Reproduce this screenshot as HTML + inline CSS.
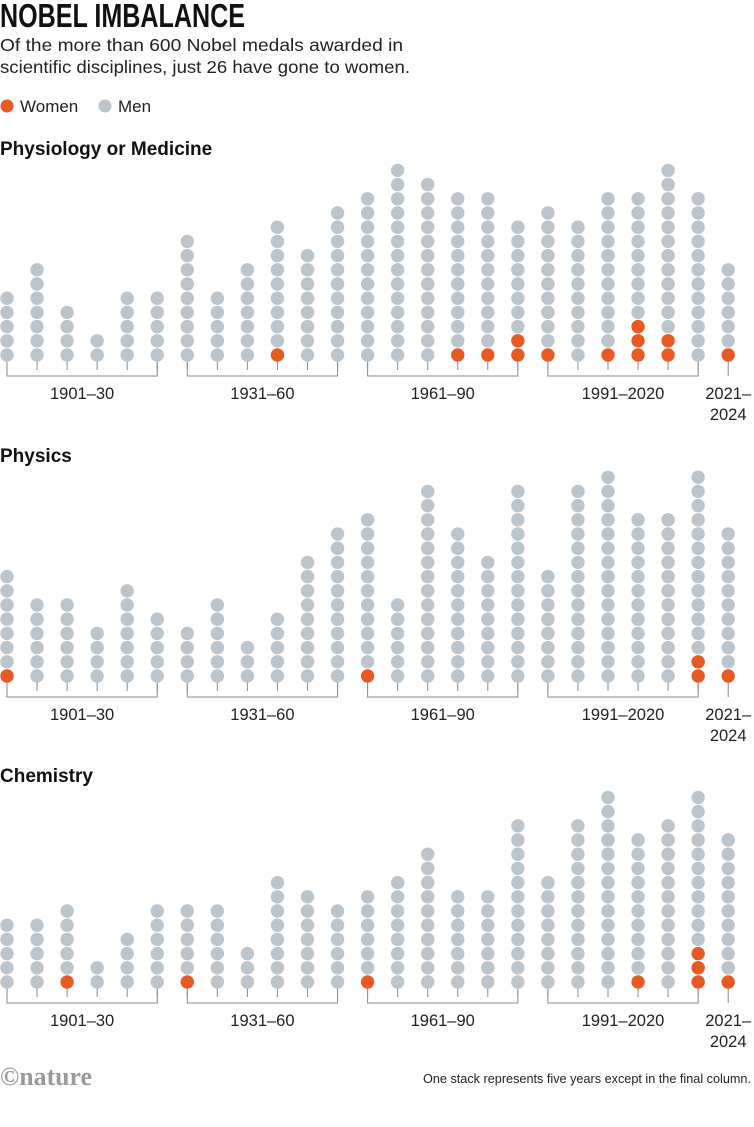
<!DOCTYPE html>
<html><head><meta charset="utf-8">
<style>
html,body{margin:0;padding:0;background:#fff;}
body{width:754px;height:1127px;overflow:hidden;position:relative;font-family:"Liberation Sans",sans-serif;color:#1a1a1a;}
</style></head>
<body>
<svg id="chart" width="754" height="1127" viewBox="0 0 754 1127" xmlns="http://www.w3.org/2000/svg" style="position:absolute;left:0;top:0">
  <text x="0" y="27" font-family="Liberation Sans Narrow, Liberation Sans, sans-serif" font-weight="bold" font-size="33" textLength="245" lengthAdjust="spacingAndGlyphs" fill="#111">NOBEL IMBALANCE</text>
  <text x="0" y="51" font-size="17.5" fill="#222" textLength="403" lengthAdjust="spacingAndGlyphs">Of the more than 600 Nobel medals awarded in</text>
  <text x="0" y="73" font-size="17.5" fill="#222" textLength="410" lengthAdjust="spacingAndGlyphs">scientific disciplines, just 26 have gone to women.</text>
  <g>
    <circle cx="7" cy="106" r="6.5" fill="#e85a24"/>
    <text x="20" y="112" font-size="17" fill="#222">Women</text>
    <circle cx="105" cy="106" r="6.5" fill="#bcc4cc"/>
    <text x="118" y="112" font-size="17" fill="#222">Men</text>
  </g>
  <g id="panels"></g>
  <text x="0" y="1085" font-family="Liberation Serif, serif" font-weight="bold" font-size="26" fill="#9a9a9a" textLength="92" lengthAdjust="spacingAndGlyphs">©nature</text>
  <text x="751" y="1083" text-anchor="end" font-size="12.5" fill="#222" textLength="328" lengthAdjust="spacingAndGlyphs">One stack represents five years except in the final column.</text>
</svg>
<script>
const periodLabels = ["1901–30","1931–60","1961–90","1991–2020"];
const finalLabel = ["2021–","2024"];
const medicineTotal = [5,7,4,2,5,5,9,5,7,10,8,11,12,14,13,12,12,10,11,10,12,12,14,12,7];
const medicineWomen = [0,0,0,0,0,0,0,0,0,1,0,0,0,0,0,1,1,2,1,0,1,3,2,0,1];
const physicsTotal = [8,6,6,4,7,5,4,6,3,5,9,11,12,6,14,11,9,14,8,14,15,12,12,15,11];
const physicsWomen = [1,0,0,0,0,0,0,0,0,0,0,0,1,0,0,0,0,0,0,0,0,0,0,2,1];
const chemistryTotal = [5,5,6,2,4,6,6,6,3,8,7,6,7,8,10,7,7,12,8,12,14,11,12,14,11];
const chemistryWomen = [0,0,1,0,0,0,1,0,0,0,0,0,1,0,0,0,0,0,0,0,0,1,0,3,1];

const panels = [
  {name:"Physiology or Medicine", key:"medicine", base:355, total:medicineTotal, women:medicineWomen},
  {name:"Physics", key:"physics", base:676, total:physicsTotal, women:physicsWomen},
  {name:"Chemistry", key:"chemistry", base:982, total:chemistryTotal, women:chemistryWomen}
];
const NS="http://www.w3.org/2000/svg";
const xCol = i => 7 + i*30.05;
const yDot = (base,k) => base - k*14.2;
const G = document.getElementById('panels');
function mk(tag, attrs, parent){const e=document.createElementNS(NS,tag);for(const k in attrs)e.setAttribute(k,attrs[k]);parent.appendChild(e);return e;}

panels.forEach(p=>{
  const g = mk('g',{},G);
  
  
  const maxN = Math.max(...p.total);
  const t = mk('text',{x:0,y:yDot(p.base,maxN)-1,'font-size':19,'font-weight':'bold',fill:'#111'},g);
  
  
  t.textContent = p.name;
  const lc='#8a8a8a';
  // brackets
  for(let b=0;b<4;b++){
    const x1=xCol(b*6), x2=xCol(b*6+5), yb=p.base+21;
    const br = mk('path',{d:`M${x1},${p.base+8} V${yb} H${x2} V${p.base+8}`,fill:'none',stroke:lc,'stroke-width':1},g);
    
    
    const lb = mk('text',{x:(x1+x2)/2,y:p.base+44,'text-anchor':'middle','font-size':16.5,fill:'#222'},g);
    
    
    lb.textContent = periodLabels[b];
  }
  const xf = xCol(24);
  const ft = mk('line',{x1:xf,y1:p.base,x2:xf,y2:p.base+21,stroke:lc,'stroke-width':1},g);
  
  
  finalLabel.forEach((s,j)=>{
    const fl = mk('text',{x:xf,y:p.base+44+j*21,'text-anchor':'middle','font-size':16.5,fill:'#222'},g);
    
    
    fl.textContent = s;
  });
  p.total.forEach((n,i)=>{
    const x=xCol(i);
    if(i<24){
      const tk = mk('line',{x1:x,y1:p.base,x2:x,y2:p.base+15,stroke:lc,'stroke-width':1},g);
      
      
    }
    for(let k=0;k<n;k++){
      const c = mk('circle',{cx:x,cy:yDot(p.base,k),r:6.7,fill:k<p.women[i]?'#e85a24':'#bcc4cc'},g);
      
      
    }
  });
});
</script>
</body></html>
